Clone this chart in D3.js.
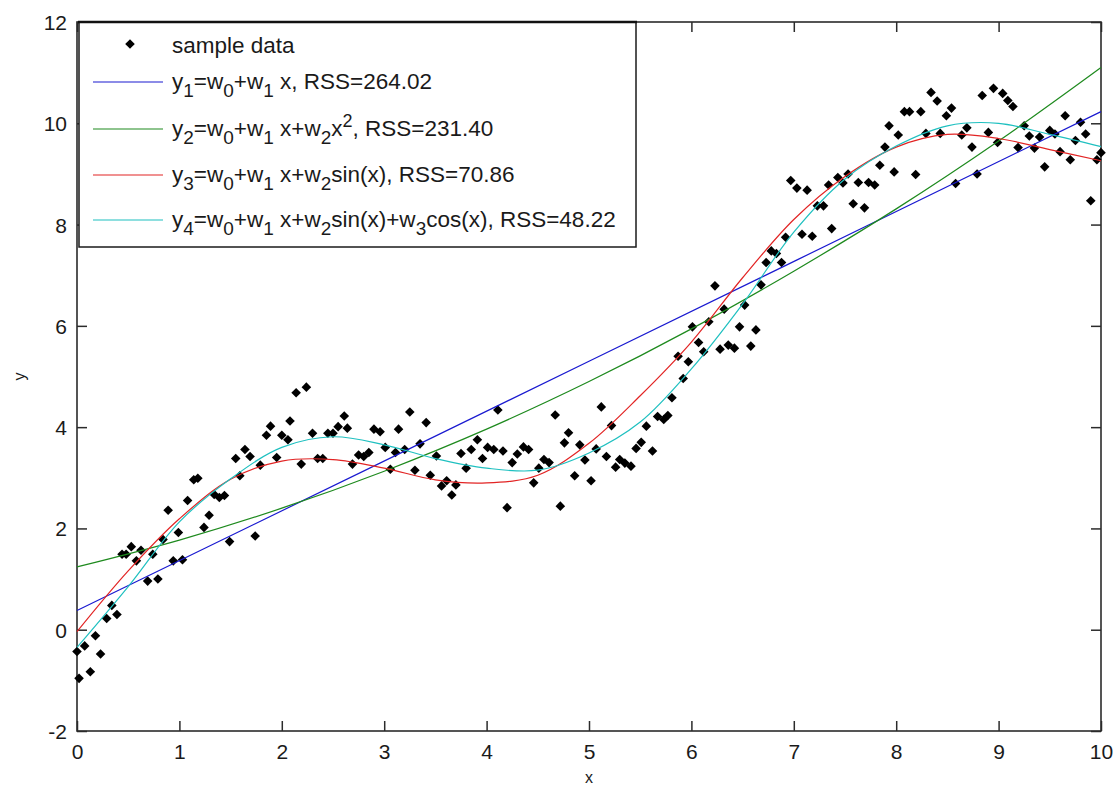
<!DOCTYPE html>
<html>
<head>
<meta charset="utf-8">
<script src="https://cdn.jsdelivr.net/npm/d3@7"></script>
<style>
  html, body { margin: 0; padding: 0; background: #fff; }
  svg { display: block; }
  text { font-family: "Liberation Sans", Arial, sans-serif; fill: #1a1a1a; }
</style>
</head>
<body>
<svg id="chart" width="1116" height="789"></svg>
<script>
// sample data
const sampleX = [0.00,0.02,0.075,0.13,0.18,0.23,0.29,0.34,0.39,0.44,0.48,0.53,0.58,0.625,0.69,0.74,0.79,0.84,0.89,0.94,0.99,1.03,1.08,1.14,1.18,1.24,1.29,1.34,1.39,1.44,1.49,1.55,1.59,1.64,1.69,1.74,1.79,1.85,1.89,1.95,2.00,
  2.06,2.08,2.14,2.19,2.24,2.30,2.35,2.40,2.45,2.50,2.55,2.61,2.64,2.69,2.75,2.80,2.85,2.90,2.96,3.01,3.06,3.11,3.14,3.20,3.25,3.30,3.35,3.41,3.45,3.51,3.56,3.61,3.66,3.70,3.75,3.80,3.85,3.91,3.96,4.01,
  4.07,4.11,4.16,4.20,4.25,4.30,4.36,4.41,4.46,4.51,4.56,4.61,4.67,4.72,4.76,4.80,4.86,4.91,4.96,5.02,5.07,5.12,5.17,5.22,5.26,5.30,5.35,5.41,5.46,5.51,5.56,5.62,5.67,5.73,5.77,5.81,5.87,5.92,5.97,6.01,
  6.07,6.12,6.17,6.23,6.28,6.32,6.36,6.42,6.47,6.52,6.58,6.63,6.68,6.73,6.78,6.83,6.88,6.92,6.97,7.03,7.08,7.13,7.18,7.23,7.29,7.34,7.37,7.43,7.48,7.53,7.58,7.63,7.69,7.73,7.79,7.84,7.89,7.93,7.98,8.02,
  8.08,8.13,8.19,8.24,8.29,8.34,8.40,8.43,8.49,8.54,8.58,8.64,8.69,8.74,8.79,8.84,8.90,8.95,8.99,9.04,9.09,9.14,9.19,9.25,9.30,9.35,9.40,9.45,9.50,9.55,9.60,9.65,9.70,9.75,9.80,9.85,9.90,9.96,10.00];
const sampleY = [-0.43,-0.96,-0.32,-0.83,-0.12,-0.48,0.22,0.48,0.30,1.49,1.49,1.64,1.36,1.57,0.96,1.49,1.00,1.78,2.36,1.36,1.92,1.38,2.55,2.96,2.99,2.02,2.26,2.67,2.61,2.65,1.74,3.38,3.04,3.56,3.42,1.85,3.25,3.84,4.02,3.40,3.84,
  3.75,4.12,4.68,3.27,4.79,3.88,3.38,3.38,3.88,3.88,4.01,4.22,3.98,3.27,3.45,3.42,3.50,3.96,3.91,3.60,3.17,3.50,3.96,3.56,4.30,3.15,3.67,4.09,3.05,3.43,2.84,2.94,2.66,2.86,3.48,3.19,3.56,3.75,3.38,3.60,
  3.56,4.34,3.53,2.41,3.30,3.47,3.61,3.56,2.90,3.19,3.36,3.30,4.24,2.44,3.69,3.89,3.04,3.65,3.35,2.94,3.57,4.40,3.42,4.03,3.21,3.36,3.29,3.23,3.58,3.70,4.02,3.53,4.21,4.15,4.23,4.58,5.40,4.96,5.29,5.98,
  5.67,5.49,6.08,6.79,5.54,6.33,5.62,5.56,5.98,6.41,5.60,5.92,6.81,7.25,7.48,7.43,7.25,7.75,8.87,8.72,7.81,8.68,7.77,8.37,8.37,8.78,7.92,8.93,8.82,9.00,8.41,8.83,8.33,8.83,8.78,9.17,9.53,9.95,9.04,9.77,
  10.23,10.23,8.99,10.23,9.80,10.61,10.44,9.80,10.15,10.30,8.81,9.77,9.91,9.53,9.00,10.55,9.82,10.69,9.62,10.59,10.45,10.33,9.52,9.95,9.75,9.51,9.73,9.14,9.86,9.79,9.44,10.15,9.28,9.66,10.02,9.79,8.47,9.28,9.42];

// fitted curves
const fit1X = [0, 5, 10];
const fit1Y = [0.38, 5.30, 10.23];
const fit2X = [0, 1, 2, 3, 4, 5, 6, 7, 8, 9, 10];
const fit2Y = [1.24, 1.77, 2.40, 3.13, 3.96, 4.90, 5.94, 7.08, 8.31, 9.65, 11.10];
const halfX = [0, 0.5, 1, 1.5, 2, 2.5, 3, 3.5, 4, 4.5, 5, 5.5, 6, 6.5, 7, 7.5, 8, 8.5, 9, 9.5, 10];
const fit3Y = [-0.04, 1.16, 2.19, 2.97, 3.33, 3.36, 3.19, 2.96, 2.90, 3.05, 3.68, 4.62, 5.68, 6.95, 8.10, 8.95, 9.53, 9.78, 9.70, 9.48, 9.26];
const fit4Y = [-0.35, 0.85, 2.13, 2.98, 3.60, 3.81, 3.65, 3.38, 3.19, 3.15, 3.49, 4.10, 5.15, 6.43, 7.85, 8.90, 9.55, 9.95, 10.0, 9.78, 9.54];

const seriesNames = ["sample data", "y_1=w_0+w_1 x, RSS=264.02", "y_2=w_0+w_1 x+w_2x^2, RSS=231.40",
  "y_3=w_0+w_1 x+w_2sin(x), RSS=70.86", "y_4=w_0+w_1 x+w_2sin(x)+w_3cos(x), RSS=48.22"];
const lineColors = ["#1a1ad0", "#1e8a1e", "#e22424", "#1fc0c0"];
const xTicks = [0, 1, 2, 3, 4, 5, 6, 7, 8, 9, 10];
const yTicks = [-2, 0, 2, 4, 6, 8, 10, 12];

const margin = { top: 22, right: 15, bottom: 58, left: 77 };
const W = 1116, H = 789;
const width = W - margin.left - margin.right;
const height = H - margin.top - margin.bottom;

const svg = d3.select("#chart");
const g = svg.append("g").attr("transform", `translate(${margin.left},${margin.top})`);

const x = d3.scaleLinear().domain([0, 10]).range([0, width]);
const y = d3.scaleLinear().domain([-2, 12]).range([height, 0]);

const axisColor = "#2b2b2b";
const plain = d => String(d); // hyphen minus like the original

// axes, ticks pointing inward
const xAxis = g.append("g").attr("transform", `translate(0,${height})`)
  .call(d3.axisBottom(x).tickValues(xTicks).tickSize(-10).tickPadding(13).tickFormat(plain));
const xTop = g.append("g")
  .call(d3.axisTop(x).tickValues(xTicks).tickSize(-10).tickFormat(""));
const yAxis = g.append("g")
  .call(d3.axisLeft(y).tickValues(yTicks).tickSize(-10).tickPadding(10).tickFormat(plain));
const yRight = g.append("g").attr("transform", `translate(${width},0)`)
  .call(d3.axisRight(y).tickValues(yTicks).tickSize(-10).tickFormat(""));

[xAxis, xTop, yAxis, yRight].forEach(a => {
  a.select(".domain").remove();
  a.selectAll(".tick line").attr("stroke", axisColor).attr("stroke-width", 1.5);
  a.selectAll(".tick text").style("font-size", "21px").style("fill", "#1a1a1a")
    .attr("font-family", "Liberation Sans, Arial, sans-serif");
});
yAxis.selectAll(".tick text").attr("dy", "0.36em");

// box
g.append("rect").attr("x", 0).attr("y", 0).attr("width", width).attr("height", height)
  .attr("fill", "none").attr("stroke", axisColor).attr("stroke-width", 1.6);

// axis labels
svg.append("text").attr("x", margin.left + width / 2).attr("y", 783)
  .attr("text-anchor", "middle").style("font-size", "16px").text("x");
svg.append("text").attr("transform", `translate(25,${margin.top + height / 2}) rotate(-90)`)
  .attr("text-anchor", "middle").style("font-size", "16px").text("y");

// sample points (filled diamonds)
const sample = sampleX.map((v, i) => ({ x: v, y: sampleY[i] }));
const diamond = d3.symbol().type(d3.symbolSquare).size(46);
g.append("g").selectAll("path").data(sample).join("path")
  .attr("transform", d => `translate(${x(d.x)},${y(d.y)}) rotate(45)`)
  .attr("d", diamond)
  .attr("fill", "#000");

// fitted lines
const fits = [
  { xs: fit1X, ys: fit1Y },
  { xs: fit2X, ys: fit2Y },
  { xs: halfX, ys: fit3Y },
  { xs: halfX, ys: fit4Y }
];
const line = d3.line().x(d => x(d[0])).y(d => y(d[1])).curve(d3.curveCatmullRom);
fits.forEach((f, i) => {
  g.append("path")
    .datum(f.xs.map((v, j) => [v, f.ys[j]]))
    .attr("fill", "none")
    .attr("stroke", lineColors[i])
    .attr("stroke-width", 1.2)
    .attr("d", line);
});

// legend
const leg = svg.append("g");
leg.append("rect").attr("x", 79).attr("y", 22).attr("width", 557).attr("height", 225)
  .attr("fill", "#fff").attr("stroke", "#1a1a1a").attr("stroke-width", 1.5);
leg.append("line").attr("x1", 78).attr("x2", 637).attr("y1", 22).attr("y2", 22)
  .attr("stroke", "#111").attr("stroke-width", 2.5);

const rowY = [44, 82, 129, 175, 220];
leg.append("path")
  .attr("transform", `translate(130,${rowY[0]}) rotate(45)`)
  .attr("d", diamond)
  .attr("fill", "#000");

lineColors.forEach((c, i) => {
  leg.append("line").attr("x1", 93).attr("x2", 163)
    .attr("y1", rowY[i + 1]).attr("y2", rowY[i + 1])
    .attr("stroke", c).attr("stroke-width", 1.2);
});

function addRich(sel, str) {
  // split into plain / _sub / ^sup pieces
  const parts = str.split(/([_^]\d)/).filter(s => s.length);
  let shift = 0;
  parts.forEach(p => {
    let dy = 0, size = 22.5, t = p;
    if (p[0] === "_") { t = p[1]; size = 19; dy = 8; }
    if (p[0] === "^") { t = p[1]; size = 18; dy = -9; }
    sel.append("tspan").attr("dy", dy - shift).style("font-size", size + "px").text(t);
    shift = dy;
  });
}

seriesNames.forEach((s, i) => {
  const t = leg.append("text").attr("x", 172).attr("y", rowY[i] + (i === 0 ? 9 : 7))
    .style("font-size", "22.5px").attr("xml:space", "preserve");
  addRich(t, s);
});
</script>
</body>
</html>
